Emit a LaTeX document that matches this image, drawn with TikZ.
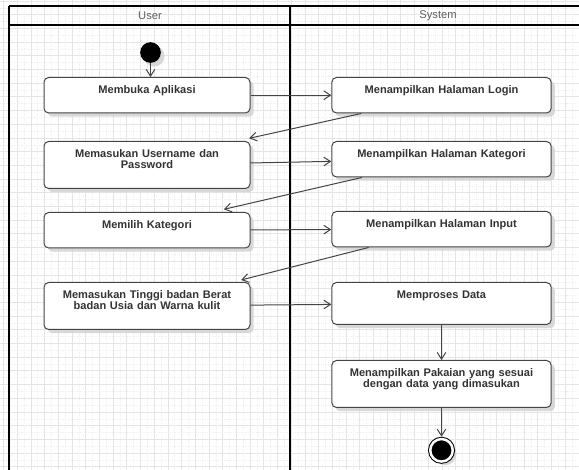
\documentclass[tikz,border=0pt]{standalone}
\usepackage{fontspec}
\setmainfont{Liberation Sans}
\usepackage{xcolor}
\definecolor{garis}{RGB}{68,68,68}
\definecolor{teks}{RGB}{51,51,51}
\definecolor{judul}{RGB}{95,95,95}
\definecolor{kisi}{RGB}{229,229,229}
\definecolor{kisikecil}{RGB}{240,240,240}
\usepackage{tikz}
\usetikzlibrary{arrows.meta,shadows}

\begin{document}
\begin{tikzpicture}[x=0.75pt, y=-0.75pt,
    bayang/.style={drop shadow={shadow xshift=2.8pt, shadow yshift=-2.8pt, fill=black!17, opacity=0.9}},
    aktivitas/.style={rectangle, draw=garis, line width=0.75pt, fill=white, rounded corners=3.5pt, anchor=north, align=center, text=teks, font=\fontsize{8.3}{8.4}\selectfont\bfseries, text height=6pt, inner xsep=4pt, inner ysep=6pt, bayang},
    kiri/.style={aktivitas, text width=146.5pt},
    kanan/.style={aktivitas, text width=156.5pt},
    awal/.style={circle, fill=black, minimum size=15.5pt, inner sep=0pt, bayang},
    akhir/.style={circle, fill=black, draw=black, line width=0.75pt, double=white, double distance=1.85pt, minimum size=16.9pt, inner sep=0pt, outer sep=1.8pt, bayang},
    kepala/.style={text=judul, font=\fontsize{8.4}{9}\selectfont},
    lajur/.style={draw=black, line width=1.4pt},
    panah/.style={draw=garis, line width=0.75pt, -{Straight Barb[length=5pt, width=6.5pt]}}]

    \useasboundingbox (0,0) rectangle (579,470);

    % Grid background
    \draw[kisikecil, densely dotted, line width=0.4pt, step=10.275pt, shift={(10.35,7.85)}] (-10.35,462.15) grid (568.65,-7.85);
    \draw[kisi, line width=0.6pt, step=10.275pt, shift={(3.5,1)}] (-3.5,469) grid (575.5,-1);

    % Swimlanes
    \draw[lajur] (9,6) -- (579,6);
    \draw[lajur] (9,25) -- (579,25);
    \draw[lajur] (9,6) -- (9,470);
    \draw[lajur] (290,6) -- (290,470);
    \node[kepala] (user) at (150,16) {User};
    \node[kepala] (system) at (438,16) {System};

    % User lane
    \node[awal] (mulai) at (150.5,52.5) {};
    \node[kiri, text depth=8.6pt] (buka) at (147,77) {Membuka Aplikasi};
    \node[kiri, text depth=17.25pt] (akun) at (147,141) {Memasukan Username dan\\Password};
    \node[kiri, text depth=8.6pt] (pilih) at (147,212) {Memilih Kategori};
    \node[kiri, text depth=17.25pt] (isi) at (147,282) {Memasukan Tinggi badan Berat\\badan Usia dan Warna kulit};

    % System lane
    \node[kanan, text depth=8.6pt] (login) at (441.5,77) {Menampilkan Halaman Login};
    \node[kanan, text depth=8.6pt] (kategori) at (441.5,141) {Menampilkan Halaman Kategori};
    \node[kanan, text depth=8.6pt] (input) at (441.5,211) {Menampilkan Halaman Input};
    \node[kanan, text depth=13.5pt] (proses) at (441.5,282) {Memproses Data};
    \node[kanan, text depth=17.25pt] (pakaian) at (441.5,360) {Menampilkan Pakaian yang sesuai\\dengan data yang dimasukan};
    \node[akhir] (selesai) at (441.5,450.3) {};

    % Flows
    \path[panah] (mulai) -- (mulai |- buka.north);
    \path[panah] (buka) -- (login);
    \path[panah] ([xshift=22.5pt]login.south west) -- ([xshift=-1pt,yshift=2pt]akun.north east);
    \path[panah] (akun) -- (kategori);
    \path[panah] ([xshift=23pt]kategori.south west) -- ([xshift=-20pt,yshift=2pt]pilih.north east);
    \path[panah] (pilih) -- (input);
    \path[panah] ([xshift=28pt]input.south west) -- ([xshift=-7pt,yshift=1.5pt]isi.north east);
    \path[panah] (isi) -- (proses);
    \path[panah] (proses) -- (pakaian);
    \path[panah] (pakaian) -- (selesai);
\end{tikzpicture}
\end{document}
